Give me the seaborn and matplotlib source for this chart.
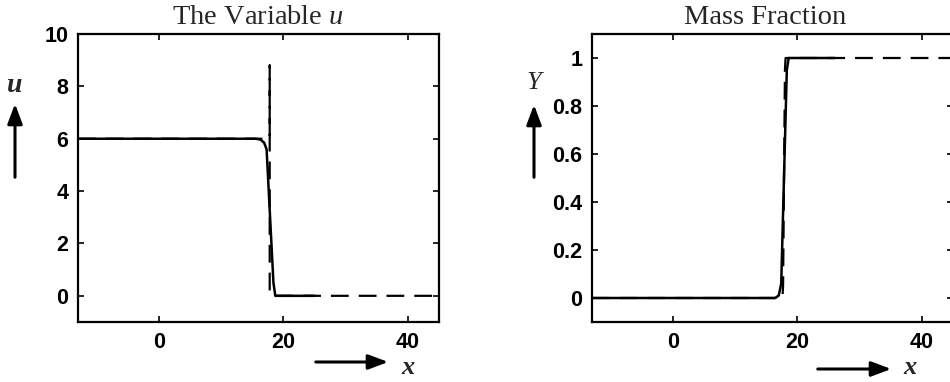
import matplotlib
matplotlib.use("Agg")
import matplotlib.pyplot as plt
import seaborn as sns
import numpy as np
import pandas as pd

# ---- data ----
u_solid_x = [-13, 15.5, 16.3, 16.9, 17.3, 18.4, 18.7, 25]
u_solid_y = [6.0, 6.0, 5.97, 5.85, 5.6, 0.5, 0.0, 0.0]
u_dash_x = [-13, 17.8, 17.8, 17.8, 18.0, 45]
u_dash_y = [6.0, 6.0, 8.8, 0.2, 0.0, 0.0]

Y_solid_x = [-13, 16.4, 17.0, 17.4, 18.3, 18.6, 26]
Y_solid_y = [0.0, 0.0, 0.01, 0.06, 0.95, 1.0, 1.0]
Y_dash_x = [-13, 17.6, 17.7, 18.0, 18.1, 45]
Y_dash_y = [0.0, 0.0, 0.05, 0.95, 1.0, 1.0]

x_ticks = [0, 20, 40]
u_ticks = [0, 2, 4, 6, 8, 10]
Y_ticks = [0, 0.2, 0.4, 0.6, 0.8, 1]
Y_ticklabels = ["0", "0.2", "0.4", "0.6", "0.8", "1"]

sns.set_theme(style="ticks")
plt.rcParams['font.family'] = ['Liberation Sans', 'DejaVu Sans']
plt.rcParams['mathtext.fontset'] = 'custom'
plt.rcParams['mathtext.rm'] = 'Liberation Serif'
plt.rcParams['mathtext.it'] = 'Liberation Serif:italic'

fig = plt.figure(figsize=(9.5, 3.82), dpi=100)
W, H = 950, 382

def ax_at(l, t, w, h):
    return fig.add_axes([l / W, (H - t - h) / H, w / W, h / H])

axL = ax_at(78, 34, 361, 288)
axR = ax_at(592, 34, 361, 288)

def draw(ax, sx, sy, dx, dy):
    sns.lineplot(x=sx, y=sy, ax=ax, sort=False, estimator=None, color="black", lw=1.8)
    sns.lineplot(x=dx, y=dy, ax=ax, sort=False, estimator=None, color="black", lw=1.6,
                 linestyle=(0, (8, 4.5)))

draw(axL, u_solid_x, u_solid_y, u_dash_x, u_dash_y)
draw(axR, Y_solid_x, Y_solid_y, Y_dash_x, Y_dash_y)

axL.set_xlim(-13, 45)
axL.set_ylim(-1, 10)
axL.set_yticks(u_ticks)
axR.set_xlim(-13, 45)
axR.set_ylim(-0.1, 1.1)
axR.set_yticks(Y_ticks)
axR.set_yticklabels(Y_ticklabels)

for ax in (axL, axR):
    ax.set_xticks(x_ticks)
    ax.tick_params(direction="in", length=4, width=1.2, top=True, right=True,
                   labelsize=15.5, pad=7, colors="black")
    for lab in ax.get_xticklabels() + ax.get_yticklabels():
        lab.set_fontweight("bold")
    for s in ax.spines.values():
        s.set_linewidth(1.6)
        s.set_color("black")
    ax.set_xlabel("")
    ax.set_ylabel("")

serif = ['Liberation Serif', 'DejaVu Serif']
fig.text(258 / W, (H - 18) / H, "The Variable $\\mathit{u}$", ha="center", va="center",
         fontsize=20.5, family=serif)
fig.text(765 / W, (H - 18) / H, "Mass Fraction", ha="center", va="center",
         fontsize=20.5, family=serif)

def arrow(x0, y0, x1, y1):
    fig.add_artist(matplotlib.patches.FancyArrowPatch(
        (x0 / W, (H - y0) / H), (x1 / W, (H - y1) / H), transform=fig.transFigure,
        arrowstyle="-|>,head_length=8,head_width=3", color="black", lw=2.2,
        mutation_scale=1.5))

arrow(15, 180, 15, 101)
fig.text(15 / W, (H - 85) / H, "u", ha="center", va="center", fontsize=20,
         family=serif, style="italic", fontweight="bold")
arrow(313, 362, 391, 362)
fig.text(408 / W, (H - 368) / H, "x", ha="center", va="center", fontsize=19,
         family=serif, style="italic", fontweight="bold")

arrow(534, 180, 534, 102)
fig.text(534 / W, (H - 83) / H, "Y", ha="center", va="center", fontsize=19,
         family=serif, style="italic")
arrow(815, 369, 894, 369)
fig.text(910 / W, (H - 368) / H, "x", ha="center", va="center", fontsize=19,
         family=serif, style="italic", fontweight="bold")

fig.savefig("out.png", dpi=100)
